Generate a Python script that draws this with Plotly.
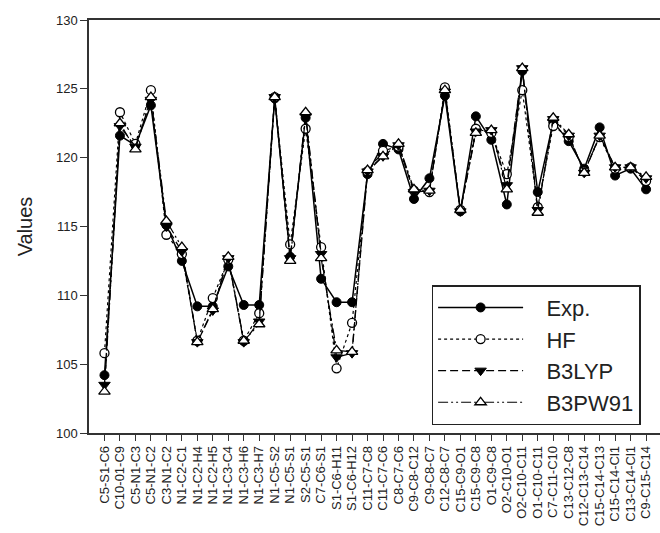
import plotly.graph_objects as go

categories = ["C5-S1-C6", "C10-01-C9", "C5-N1-C3", "C5-N1-C2", "C3-N1-C2", "N1-C2-C1",
              "N1-C2-H4", "N1-C2-H5", "N1-C3-C4", "N1-C3-H6", "N1-C3-H7", "N1-C5-S2",
              "N1-C5-S1", "S2-C5-S1", "C7-C6-S1", "S1-C6-H11", "S1-C6-H12", "C11-C7-C8",
              "C11-C7-C6", "C8-C7-C6", "C9-C8-C12", "C9-C8-C7", "C12-C8-C7", "C15-C9-O1",
              "C15-C9-C8", "O1-C9-C8", "O2-C10-O1", "O2-C10-C11", "O1-C10-C11", "C7-C11-C10",
              "C13-C12-C8", "C12-C13-C14", "C15-C14-C13", "C15-C14-Cl1", "C13-C14-Cl1", "C9-C15-C14"]

exp_vals = [104.2, 121.6, 120.9, 123.8, 115.1, 112.5, 109.2, 109.2, 112.1, 109.3, 109.3, 124.3,
            112.8, 122.9, 111.2, 109.5, 109.5, 118.8, 121.0, 120.6, 117.0, 118.5, 124.5, 116.1,
            123.0, 121.3, 116.6, 126.3, 117.5, 122.6, 121.2, 119.2, 122.2, 118.7, 119.2, 117.7]
hf_vals = [105.8, 123.3, 121.0, 124.9, 114.4, 113.0, 106.7, 109.8, 112.6, 106.7, 108.7, 124.4,
           113.7, 122.1, 113.5, 104.7, 108.0, 119.0, 120.5, 120.8, 117.6, 117.5, 125.1, 116.2,
           122.1, 121.8, 118.8, 124.9, 116.4, 122.3, 121.5, 119.0, 121.5, 119.2, 119.3, 118.3]
b3lyp_vals = [103.5, 122.3, 120.8, 124.2, 115.0, 113.2, 106.6, 108.9, 112.7, 106.6, 108.1, 124.4,
              112.7, 123.0, 113.0, 105.5, 105.8, 119.0, 120.1, 120.9, 117.5, 117.6, 124.8, 116.1,
              121.9, 122.0, 118.0, 126.5, 116.2, 122.8, 121.6, 118.9, 121.6, 119.3, 119.3, 118.5]
b3pw91_vals = [103.0, 122.5, 120.6, 124.4, 115.4, 113.5, 106.6, 109.0, 112.8, 106.7, 107.9, 124.4,
               112.5, 123.3, 112.7, 106.0, 105.9, 119.1, 120.1, 121.0, 117.7, 117.6, 124.9, 116.2,
               121.8, 122.0, 117.7, 126.5, 116.0, 122.9, 121.7, 118.9, 121.6, 119.3, 119.3, 118.6]

series_names = ["Exp.", "HF", "B3LYP", "B3PW91"]

x = list(range(len(categories)))
pad = "\u00a0\u00a0\u00a0"

fig = go.Figure()
fig.add_trace(go.Scatter(x=x, y=exp_vals, name=pad + series_names[0], mode="lines+markers",
                         line=dict(color="black", width=1.5, dash="solid"),
                         marker=dict(symbol="circle", size=9, color="black",
                                     line=dict(color="black", width=1))))
fig.add_trace(go.Scatter(x=x, y=hf_vals, name=pad + series_names[1], mode="lines+markers",
                         line=dict(color="black", width=1.2, dash="dot"),
                         marker=dict(symbol="circle", size=9, color="white",
                                     line=dict(color="black", width=1.3))))
fig.add_trace(go.Scatter(x=x, y=b3lyp_vals, name=pad + series_names[2], mode="lines+markers",
                         line=dict(color="black", width=1.3, dash="8px,4px"),
                         marker=dict(symbol="triangle-down", size=10, color="black",
                                     line=dict(color="black", width=1))))
fig.add_trace(go.Scatter(x=x, y=b3pw91_vals, name=pad + series_names[3], mode="lines+markers",
                         line=dict(color="black", width=1.2, dash="10px,3px,2px,3px,2px,3px"),
                         marker=dict(symbol="triangle-up", size=10, color="white",
                                     line=dict(color="black", width=1.3))))

fig.update_layout(
    width=660, height=533,
    margin=dict(l=89, r=0, t=20, b=100),
    paper_bgcolor="white", plot_bgcolor="white",
    font=dict(family="Liberation Sans, Arial, sans-serif", color="#222"),
    showlegend=True,
    legend=dict(x=0.6, y=0.358, xanchor="left", yanchor="top",
                bgcolor="white", bordercolor="#222", borderwidth=1.5,
                font=dict(size=22, color="#222"), itemwidth=85,
                tracegroupgap=0),
)
fig.update_xaxes(
    range=[-1, 35.9], tickmode="array", tickvals=x, ticktext=categories,
    tickangle=-90, tickfont=dict(size=13, color="#222"),
    ticks="outside", ticklen=6, tickcolor="#333", tickwidth=1.3,
    showline=True, linecolor="#333", linewidth=1.5, mirror=True,
    showgrid=False, zeroline=False,
)
fig.update_yaxes(
    range=[100, 130], dtick=5, tickfont=dict(size=13, color="#222"),
    ticks="outside", ticklen=7, tickcolor="#333", tickwidth=1.3,
    showline=True, linecolor="#333", linewidth=1.5, mirror=False,
    showgrid=False, zeroline=False,
    title=dict(text="Values", font=dict(size=20, color="#222"), standoff=18),
)

fig.write_html("out.html")
